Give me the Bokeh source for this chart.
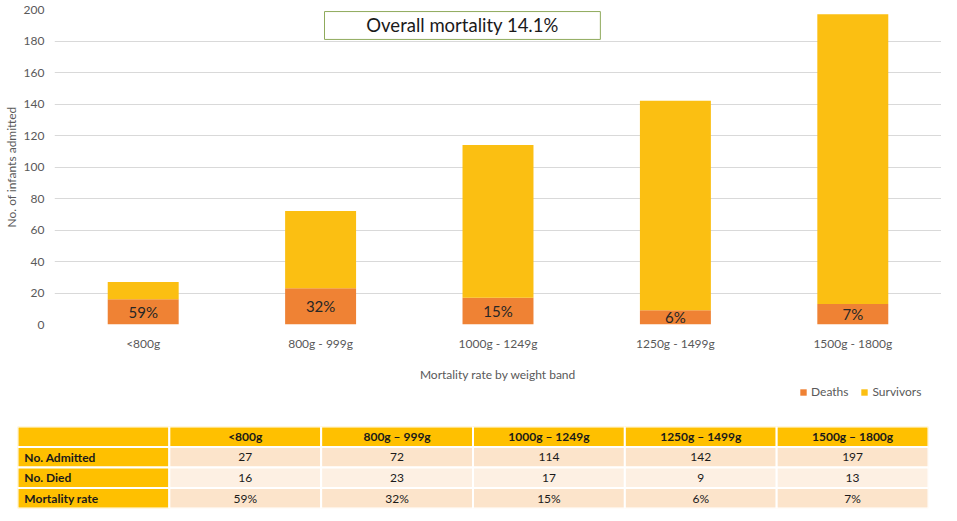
from bokeh.plotting import figure
from bokeh.models import (ColumnDataSource, Legend, LegendItem, BoxAnnotation, Label,
                          Range1d, FactorRange, FixedTicker)
from bokeh.embed import file_html
from bokeh.resources import INLINE
from bokeh.core.properties import value

# ---------------- data ----------------
categories = ["<800g", "800g - 999g", "1000g - 1249g", "1250g - 1499g", "1500g - 1800g"]
table_headers = ["<800g", "800g \u2013 999g", "1000g \u2013 1249g", "1250g \u2013 1499g", "1500g \u2013 1800g"]
row_labels = ["No. Admitted", "No. Died", "Mortality rate"]
series_names = ["Deaths", "Survivors"]
admitted = [27, 72, 114, 142, 197]
died = [16, 23, 17, 9, 13]
survivors = [a - d for a, d in zip(admitted, died)]
rates = ["59%", "32%", "15%", "6%", "7%"]
y_ticks = [0, 20, 40, 60, 80, 100, 120, 140, 160, 180, 200]
overall_rate = "14.1%"

FONT = "Lato"
GRAY = "#595959"
DEATH_COLOR = "#ef8234"
SURV_COLOR = "#fbbf12"
GOLD = "#ffc000"

# ---------------- chart ----------------
src = ColumnDataSource(dict(cat=categories, deaths=died, survivors=survivors,
                            mid=[d / 2 for d in died], rate=rates))

p = figure(x_range=FactorRange(*categories), y_range=Range1d(0, 200),
           width=941, height=384, output_backend="svg", toolbar_location=None,
           min_border_top=9, min_border_right=0, min_border_bottom=60, min_border_left=52)
p.outline_line_color = None
p.background_fill_color = "white"

rs = p.vbar_stack(["deaths", "survivors"], x="cat", width=0.4,
                  fill_color=[DEATH_COLOR, SURV_COLOR], line_color=None, source=src)

p.text(x="cat", y="mid", text="rate", source=src, text_align="center",
       text_baseline="middle", text_font=value(FONT), text_font_size="15px",
       text_color="#262626")

p.yaxis.ticker = FixedTicker(ticks=y_ticks)
p.ygrid.grid_line_color = "#d9d9d9"
p.xgrid.grid_line_color = None
for ax in (p.xaxis, p.yaxis):
    ax.axis_line_color = None
    ax.major_tick_line_color = None
    ax.minor_tick_line_color = None
    ax.major_tick_out = 0
    ax.major_tick_in = 0
    ax.minor_tick_out = 0
    ax.major_label_text_font = FONT
    ax.major_label_text_font_size = "12px"
    ax.major_label_text_color = GRAY
    ax.axis_label_text_font = FONT
    ax.axis_label_text_font_size = "12px"
    ax.axis_label_text_color = GRAY
    ax.axis_label_text_font_style = "normal"

p.yaxis.axis_label = "No. of infants admitted"
p.yaxis.major_label_standoff = 10
p.yaxis.axis_label_standoff = 2
p.xaxis.axis_label = "Mortality rate by weight band"
p.xaxis.major_label_standoff = 11
p.xaxis.axis_label_standoff = 13

box = BoxAnnotation(left=1.522, right=3.077, bottom=181, top=198.7,
                    fill_color="white", fill_alpha=1.0,
                    line_color="#8faa5c", line_width=1, line_alpha=1.0)
p.add_layout(box)
p.add_layout(Label(x=2.3, y=190, text="Overall mortality " + overall_rate,
                   text_align="center", text_baseline="middle",
                   text_font=FONT, text_font_size="18.5px", text_color="#1a1a1a"))

# ---------------- legend strip ----------------
lg = figure(x_range=Range1d(0, 1), y_range=Range1d(0, 1), width=941, height=18,
            output_backend="svg", toolbar_location=None,
            x_axis_location=None, y_axis_location=None,
            min_border_left=0, min_border_right=0, min_border_top=0, min_border_bottom=0)
lg.outline_line_color = None
for g in lg.grid:
    g.visible = False
# zero-height proxy bars: they draw nothing but give the legend its colour swatches
d_r = lg.vbar(x=[0.5], top=[0], bottom=[0], width=0.1, fill_color=DEATH_COLOR, line_color=None)
s_r = lg.vbar(x=[0.5], top=[0], bottom=[0], width=0.1, fill_color=SURV_COLOR, line_color=None)
legend = Legend(items=[LegendItem(label=series_names[0], renderers=[d_r]),
                       LegendItem(label=series_names[1], renderers=[s_r])],
                orientation="horizontal", location=(799, 3),
                glyph_width=8, glyph_height=8, label_text_font=FONT,
                label_text_font_size="12px", label_text_color=GRAY,
                border_line_color=None, background_fill_alpha=0,
                padding=0, margin=0, spacing=12, label_standoff=4,
                label_height=12)
lg.add_layout(legend)

# ---------------- table ----------------
ncols = len(table_headers) + 1
nrows = len(row_labels) + 1
t = figure(x_range=Range1d(0, ncols), y_range=Range1d(nrows, 0),
           width=941, height=107, output_backend="svg", toolbar_location=None,
           x_axis_location=None, y_axis_location=None,
           min_border_left=17, min_border_right=13, min_border_top=24, min_border_bottom=1)
t.outline_line_color = None
for g in t.grid:
    g.visible = False

row_fill = ["#fce4cb", "#fdf0e3", "#fce4cb"]
cx, cy, cc = [], [], []
for c in range(ncols):
    cx.append(c + 0.5); cy.append(0.5); cc.append(GOLD)
for r in range(1, nrows):
    for c in range(ncols):
        cx.append(c + 0.5); cy.append(r + 0.5)
        cc.append(GOLD if c == 0 else row_fill[r - 1])
t.rect(x=cx, y=cy, width=1, height=1, fill_color=cc, line_color="white", line_width=2)

# header texts
t.text(x=[i + 1.5 for i in range(len(table_headers))], y=[0.5] * len(table_headers),
       text=table_headers, text_align="center", text_baseline="middle",
       text_font=value(FONT), text_font_size="12px", text_font_style="bold",
       text_color="#1a1a1a")
# row labels
t.text(x=[0.045] * len(row_labels), y=[r + 1.5 for r in range(len(row_labels))],
       text=row_labels, text_align="left", text_baseline="middle",
       text_font=value(FONT), text_font_size="12px", text_font_style="bold",
       text_color="#1a1a1a")
# values
vals = [[str(v) for v in admitted], [str(v) for v in died], rates]
vx, vy, vt = [], [], []
for r, row in enumerate(vals):
    for c, s in enumerate(row):
        vx.append(c + 1.5); vy.append(r + 1.5); vt.append(s)
t.text(x=vx, y=vy, text=vt, text_align="center", text_baseline="middle",
       text_font=value(FONT), text_font_size="12px", text_color="#1a1a1a")

open("out.html", "w").write(file_html([p, lg, t], INLINE))
